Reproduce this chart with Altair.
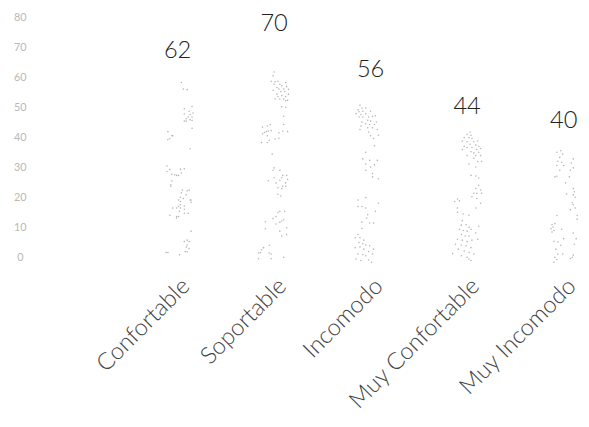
import altair as alt
import pandas as pd

categories = ["Confortable", "Soportable", "Incomodo", "Muy Confortable", "Muy Incomodo"]
counts = [62, 70, 56, 44, 40]
count_label_y = [68.8, 77.8, 62.4, 50.0, 45.4]
y_ticks = [0, 10, 20, 30, 40, 50, 60, 70, 80]

# individual responses: vertical value and horizontal jitter (in category units)
conf_y = [58.3, 56.1, 55.9, 50.3, 49.5, 48.7, 48.1, 47.8, 47.6, 46.8, 46.8, 46.2, 45.9, 45.4, 45.4, 45.6, 43.0,
          41.9, 40.5, 40.5, 39.6, 39.2, 36.2,
          30.4, 29.3, 28.6, 29.3, 29.5, 28.1, 27.7, 27.5, 27.3, 27.3, 25.4, 24.2, 23.7,
          22.4, 22.2, 22.4, 21.5, 20.8, 20.0, 19.6, 19.1, 19.1, 19.1, 18.6, 18.3, 17.5, 16.9, 17.1, 16.4, 16.4,
          16.4, 16.0, 15.3, 14.7, 14.7, 14.0, 13.6, 13.6, 13.1,
          8.7, 5.2, 5.7, 5.2, 4.1, 3.4, 2.9, 1.8, 1.8, 1.6, 1.6, 0.8]
conf_dx = [0.04, 0.06, 0.10, 0.15, 0.07, 0.12, 0.16, 0.07, 0.13, 0.11, 0.15, 0.09, 0.13, 0.07, 0.09, 0.15, 0.15,
           -0.10, -0.06, -0.05, -0.08, -0.10, 0.13,
           -0.11, -0.08, -0.11, 0.03, 0.07, 0.04, -0.06, -0.03, -0.01, 0.01, -0.06, -0.07, -0.07,
           0.05, 0.10, 0.12, 0.04, 0.09, 0.03, 0.06, 0.01, 0.13, 0.14, 0.03, 0.14, 0.03, 0.01, 0.07, -0.05, -0.01,
           0.03, 0.07, 0.02, 0.11, 0.07, -0.08, -0.01, 0.01, -0.01,
           0.14, 0.07, 0.10, 0.12, 0.10, 0.09, 0.12, 0.08, 0.10, -0.12, -0.10, 0.02]

sop_y = [61.8, 60.5, 58.7, 58.5, 58.7, 57.7, 57.7, 58.3, 57.2, 56.6, 56.9, 55.7, 56.1, 56.1, 56.0, 55.3, 55.3,
         54.4, 54.4, 53.6, 53.9, 53.6, 52.8, 52.8, 52.8, 52.4, 52.2, 50.2, 50.0, 47.0,
         44.3, 44.3, 43.8, 43.4, 42.3, 41.9, 41.6, 41.2, 42.1, 42.1, 41.5, 41.9, 40.5, 39.7, 39.4, 39.0, 38.3,
         38.3, 34.4,
         29.8, 29.0, 29.0, 27.3, 27.3, 26.5, 26.5, 25.9, 25.5, 25.7, 24.8, 24.8, 23.7, 23.7, 23.2, 22.9, 21.0, 20.4,
         15.0, 15.3, 15.3, 12.9, 13.6, 12.5, 12.1, 11.7, 11.1, 11.8, 9.8, 9.5, 8.7, 7.6, 7.1,
         4.0, 3.2, 2.5, 1.6, 1.4, 1.4, 1.1, -0.5, -0.5, 0.0]
sop_dx = [0.00, -0.01, -0.03, 0.01, 0.04, 0.00, 0.06, 0.12, 0.08, 0.03, 0.13, -0.01, 0.05, 0.10, 0.15, 0.07, 0.11,
          0.03, 0.15, 0.04, 0.08, 0.12, 0.01, 0.06, 0.10, 0.14, 0.12, 0.08, 0.12, 0.10,
          0.10, -0.04, -0.07, -0.12, -0.03, -0.08, -0.10, -0.12, -0.06, 0.09, 0.05, 0.14, -0.07, 0.05, 0.01, -0.05,
          -0.13, -0.07, -0.02,
          0.00, -0.01, 0.06, 0.09, 0.13, 0.00, 0.08, 0.14, -0.06, 0.06, 0.02, 0.12, 0.09, 0.12, 0.04, 0.08, 0.04, 0.07,
          0.04, 0.06, 0.11, -0.01, 0.02, 0.10, 0.08, 0.06, 0.02, -0.09, 0.13, -0.09, 0.06, 0.13, 0.08,
          -0.05, -0.11, -0.13, -0.14, -0.16, -0.05, -0.03, -0.16, -0.03, 0.10]

inc_y = [50.7, 49.8, 49.2, 49.8, 48.5, 48.7, 47.9, 47.6, 47.9, 48.7, 46.8, 46.8, 46.8, 47.0, 47.2, 45.7, 45.4,
         45.1, 44.5, 44.3, 44.3, 45.1, 43.8, 43.2, 43.2, 42.6, 42.6, 41.8, 40.5, 39.6, 40.7,
         37.2, 35.0, 32.8, 32.3, 32.3, 31.1, 30.8, 30.1, 29.0, 27.9, 26.2, 26.8,
         19.9, 19.1, 18.0, 16.9, 16.9, 16.4, 15.3, 14.2, 13.1, 11.7, 11.4, 11.4,
         9.6, 7.6, 6.5, 6.5, 5.7, 4.9, 4.5, 4.1, 3.8, 3.4, 3.2, 2.7, 2.7, 1.9, 1.1, 0.8, 0.5, 1.1, -0.6, -1.1,
         -0.9, -1.7]
inc_dx = [-0.11, -0.09, -0.13, -0.05, -0.12, -0.08, -0.15, -0.10, -0.05, 0.00, -0.12, -0.08, -0.02, 0.02, 0.05,
          -0.03, 0.00, -0.09, -0.05, -0.01, 0.04, 0.06, -0.10, -0.03, 0.02, 0.07, -0.11, -0.02, 0.00, 0.03, 0.08,
          0.04, -0.05, -0.08, -0.01, 0.07, -0.05, 0.04, 0.00, -0.05, 0.02, 0.08, 0.02,
          -0.05, -0.13, 0.08, -0.13, -0.09, -0.05, 0.05, -0.03, -0.04, -0.09, -0.01, 0.03,
          -0.09, -0.13, -0.16, -0.11, -0.07, -0.12, -0.08, -0.05, -0.01, -0.11, -0.16, -0.07, 0.03, -0.02, -0.13,
          -0.08, -0.05, 0.02, -0.15, -0.10, -0.02, 0.01]

mconf_y = [41.8, 41.0, 40.7, 39.9, 39.9, 39.6, 38.8, 38.5, 38.5, 38.8, 37.7, 37.4, 37.0, 36.6, 36.6, 37.0, 35.9,
           35.9, 36.3, 35.2, 34.8, 35.0, 33.9, 33.9, 33.9, 33.0, 31.9, 31.9, 31.1, 30.1,
           27.3, 27.1, 26.4, 24.0, 22.9, 22.4, 21.3, 21.3, 21.3, 20.2, 19.6, 18.0, 19.4, 18.6, 18.8, 16.4, 15.0,
           14.4, 14.0, 16.4,
           12.2, 10.7, 10.9, 10.0, 9.3, 8.9, 8.7, 9.3, 10.3, 7.6, 7.1, 7.1, 8.1, 6.0, 5.7, 5.2, 5.7, 6.0, 4.3, 4.1,
           3.8, 3.2, 2.7, 2.1, 1.2, 1.6, 1.1, 0.5, 0.0, -0.6, -1.1]
mconf_dx = [0.03, 0.00, 0.04, -0.03, 0.02, 0.05, -0.05, 0.00, 0.07, 0.11, 0.03, 0.09, -0.03, 0.00, 0.05, 0.12,
            -0.05, 0.10, 0.14, 0.04, 0.07, 0.12, 0.00, 0.09, 0.14, 0.07, 0.11, 0.15, 0.02, 0.09,
            0.04, 0.09, 0.12, 0.12, 0.09, 0.14, 0.07, 0.10, 0.15, 0.05, 0.10, 0.14, -0.10, -0.13, -0.08, -0.10,
            -0.10, -0.04, 0.02, 0.09,
            -0.05, -0.06, -0.01, 0.02, -0.08, -0.04, 0.00, 0.04, 0.12, -0.06, -0.02, 0.02, 0.09, -0.10, -0.05, 0.00,
            0.05, 0.11, -0.12, -0.06, -0.01, 0.04, -0.09, -0.03, -0.15, 0.02, 0.07, -0.06, 0.00, 0.02, 0.04]

minc_y = [35.5, 34.4, 35.0, 33.3, 32.0, 31.7, 30.6, 30.6, 29.0, 32.8, 31.4, 29.8, 29.0, 27.0, 26.8, 26.8, 24.8,
          22.9, 21.8, 21.1, 20.8, 20.0, 18.2, 17.5, 16.4, 15.8, 13.9, 13.9, 12.7,
          11.2, 10.9, 10.1, 9.5, 8.9, 8.4, 9.3, 8.1, 6.2, 6.2, 5.1, 5.3, 4.0, 4.3, 2.7, 1.1, 1.1, 0.7, 0.0, -0.8,
          -1.7, -0.4, 0.0]
minc_dx = [-0.03, -0.01, -0.07, -0.04, -0.06, -0.02, -0.07, 0.00, -0.04, 0.10, 0.08, 0.10, 0.07, -0.07, -0.09,
           0.06, 0.02,
           0.10, 0.11, 0.03, 0.10, 0.12, 0.09, 0.10, 0.12, 0.07, -0.07, 0.14, 0.14,
           -0.09, -0.12, -0.11, -0.13, -0.10, -0.12, -0.02, 0.10, 0.00, 0.13, -0.06, -0.10, -0.03, 0.11, -0.08,
           -0.06, -0.01, 0.10, -0.09, -0.07, -0.10, 0.07, 0.09]

series_y = [conf_y, sop_y, inc_y, mconf_y, minc_y]
series_dx = [conf_dx, sop_dx, inc_dx, mconf_dx, minc_dx]

rows = []
for i, (ys, dxs) in enumerate(zip(series_y, series_dx)):
    for yv, dx in zip(ys, dxs):
        rows.append({"cat": categories[i], "x": i + dx, "y": yv})
points_df = pd.DataFrame(rows)

labels_df = pd.DataFrame({
    "x": list(range(len(categories))),
    "y": count_label_y,
    "n": [str(c) for c in counts],
})

label_expr = "[" + ",".join("'" + c + "'" for c in categories) + "][datum.value]"

x_scale = alt.Scale(domain=[-1.441, 4.017], nice=False, zero=False)
y_scale = alt.Scale(domain=[0, 80], nice=False, zero=False)

x_axis = alt.Axis(values=list(range(len(categories))), labelExpr=label_expr,
                  labelAngle=-45, labelAlign="right", labelBaseline="top",
                  labelFont="Lato", labelFontWeight=300, labelFontSize=24,
                  labelColor="#444444", labelPadding=17, labelOverlap=False,
                  labelFlush=False, labelBound=False, domain=False, ticks=False,
                  tickSize=0, grid=False)
y_axis = alt.Axis(values=y_ticks, labelAlign="center", labelPadding=19,
                  labelFont="Lato", labelFontSize=11, labelColor="#b8b8b8",
                  domain=False, ticks=False, tickSize=0, grid=False)

points = alt.Chart(points_df).mark_circle(size=2.5, color="#a3a3a3", opacity=0.8).encode(
    x=alt.X("x:Q", scale=x_scale, title=None, axis=x_axis),
    y=alt.Y("y:Q", scale=y_scale, title=None, axis=y_axis),
)

texts = alt.Chart(labels_df).mark_text(
    font="Lato", fontSize=24, fontWeight=300, color="#222222", align="center", baseline="middle"
).encode(
    x=alt.X("x:Q", scale=x_scale, title=None, axis=x_axis),
    y=alt.Y("y:Q", scale=y_scale, title=None, axis=y_axis),
    text="n:N",
)

chart = alt.layer(points, texts).properties(
    width=536, height=244,
    padding={"left": 5, "top": 0, "right": 0, "bottom": 0},
    background="white",
).configure_view(stroke=None)

chart.save("out.html", embed_options={"renderer": "svg", "actions": False})
